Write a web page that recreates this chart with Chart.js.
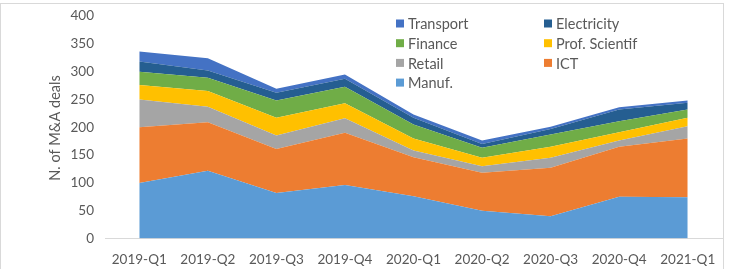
<!DOCTYPE html>
<html>
<head>
<meta charset="utf-8">
<script src="https://cdn.jsdelivr.net/npm/chart.js@4.4.1/dist/chart.umd.min.js"></script>
<style>
  html, body { margin: 0; padding: 0; background: #fff; }
  #wrap { width: 730px; height: 269px; }
</style>
</head>
<body>
<div id="wrap"><canvas id="mainChart" width="730" height="269"></canvas></div>
<script>
const quarters = ['2019-Q1', '2019-Q2', '2019-Q3', '2019-Q4', '2020-Q1', '2020-Q2', '2020-Q3', '2020-Q4', '2021-Q1'];
const manuf       = [100, 122, 82, 96, 76, 50, 40, 75, 74];
const ict         = [100, 87, 79, 94, 70, 68, 87, 90, 106];
const retail      = [50, 28, 24, 26, 12, 12, 18, 11, 22];
const prof        = [26, 28, 32, 27, 22, 15, 20, 15, 15];
const finance     = [24, 24, 31, 30, 25, 18, 22, 20, 15];
const electricity = [18, 13, 14, 14, 12, 7, 10, 21, 12];
const transport   = [18, 22, 7, 8, 6, 6, 4, 4, 4];

const seriesNames = ['Manuf.', 'ICT', 'Retail', 'Prof. Scientif', 'Finance', 'Electricity', 'Transport'];
const seriesData = [manuf, ict, retail, prof, finance, electricity, transport];
const seriesColors = ['#5B9BD5', '#ED7D31', '#A5A5A5', '#FFC000', '#70AD47', '#255E91', '#4472C4'];

const FONT = 'Lato, "Liberation Sans", sans-serif';
const TXT = '#595959';

// legend in two columns, top series first (like Excel)
const legendPlugin = {
    id: 'areaLegend',
    afterDraw(chart) {
        const ctx = chart.ctx;
        const items = chart.data.datasets.slice().reverse();
        ctx.save();
        ctx.font = '14.5px ' + FONT;
        ctx.textBaseline = 'middle';
        items.forEach((ds, i) => {
            const col = i % 2, row = Math.floor(i / 2);
            const x = col === 0 ? 396 : 544;
            const y = 23.5 + row * 19.7;
            ctx.fillStyle = ds.backgroundColor;
            ctx.fillRect(x, y - 4, 8, 8);
            ctx.fillStyle = TXT;
            ctx.fillText(ds.label, x + 12, y + 1);
        });
        // axis title
        ctx.translate(55, 128);
        ctx.rotate(-Math.PI / 2);
        ctx.textAlign = 'center';
        ctx.font = '14.5px ' + FONT;
        ctx.fillText('N. of M&A deals', 0, 0);
        ctx.restore();
        // chart frame
        ctx.save();
        ctx.strokeStyle = '#D9D9D9';
        ctx.lineWidth = 1;
        ctx.strokeRect(0.5, 3.5, 723, 270);
        ctx.restore();
    }
};

const datasets = seriesNames.map((name, i) => ({
    label: name,
    data: seriesData[i],
    backgroundColor: seriesColors[i],
    borderColor: seriesColors[i],
    borderWidth: 0,
    pointRadius: 0,
    tension: 0,
    fill: i === 0 ? 'origin' : '-1'
}));

new Chart(document.getElementById('mainChart').getContext('2d'), {
    type: 'line',
    data: { labels: quarters, datasets },
    options: {
        responsive: false,
        animation: false,
        layout: { padding: { top: 16, left: 0, right: 8, bottom: 0 } },
        plugins: { legend: { display: false }, tooltip: { enabled: false } },
        scales: {
            x: {
                offset: true,
                grid: { display: false },
                border: { display: true, color: '#D9D9D9', width: 1 },
                ticks: { color: TXT, font: { family: FONT, size: 13.5 }, padding: 5, maxRotation: 0 },
                afterFit: s => { s.height = 30.5; }
            },
            y: {
                stacked: true,
                min: 0,
                max: 400,
                grid: { display: false },
                border: { display: false },
                ticks: { stepSize: 50, color: TXT, font: { family: FONT, size: 13.5 }, padding: 3 },
                afterFit: s => { s.width = 105; }
            }
        }
    },
    plugins: [legendPlugin]
});
</script>
</body>
</html>
